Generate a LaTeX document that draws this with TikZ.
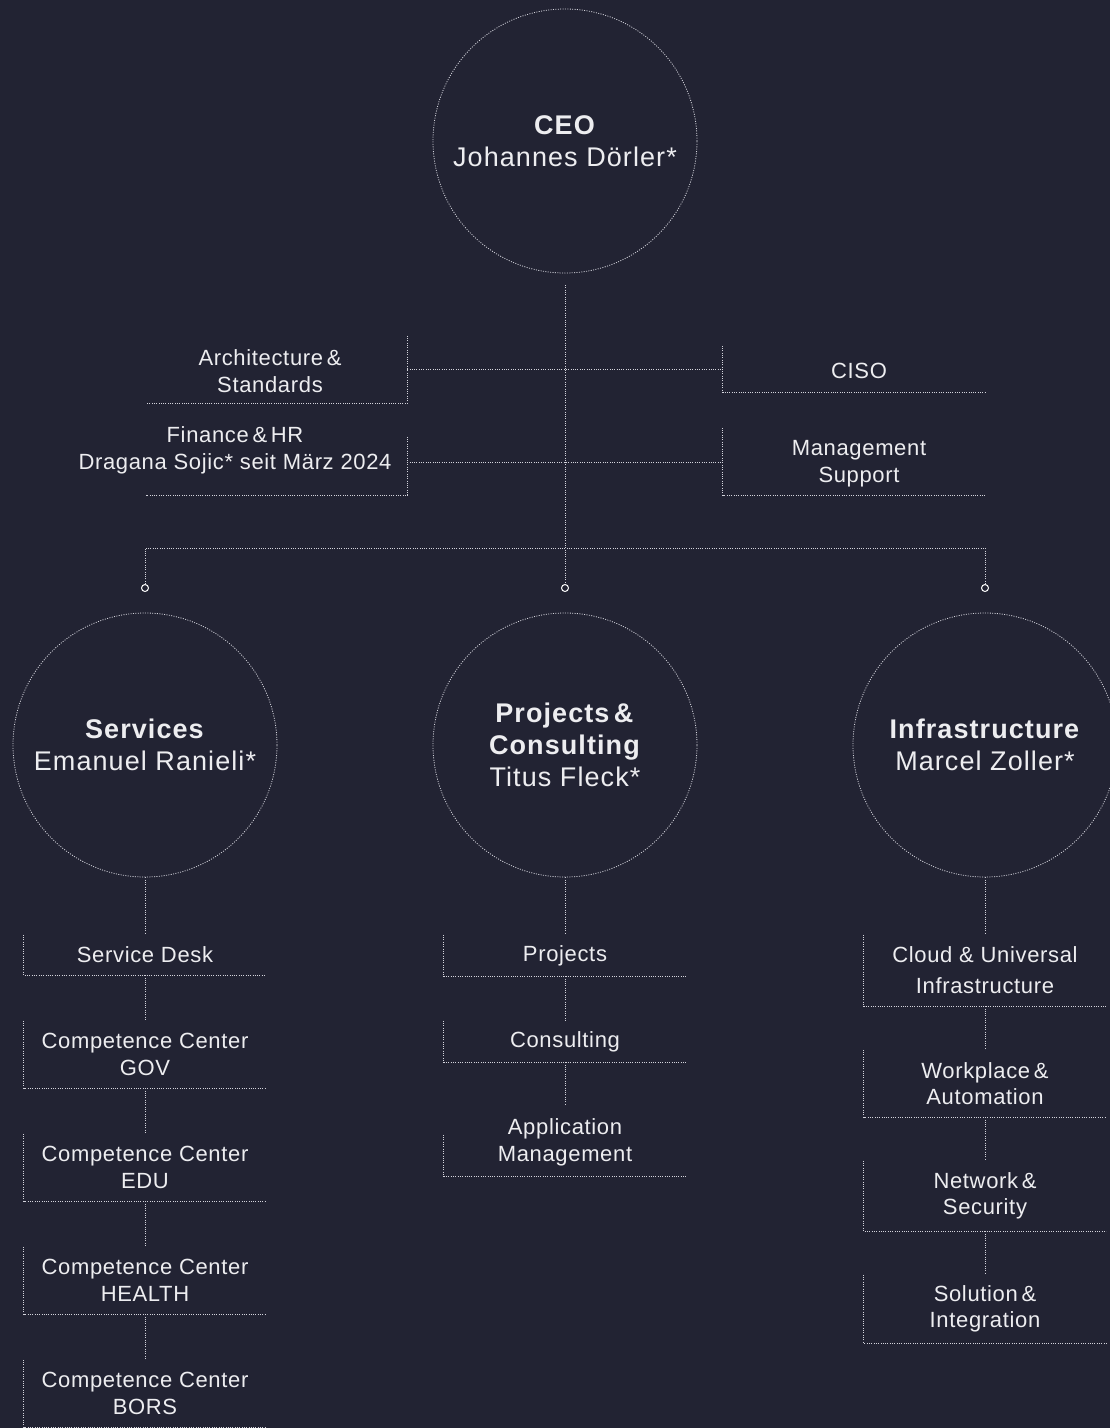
\documentclass[tikz,border=0pt]{standalone}
\usepackage{fontspec}
\setmainfont{Liberation Sans}[LetterSpace=3]
\usetikzlibrary{calc}
\definecolor{bg}{HTML}{222333}
\definecolor{fg}{HTML}{EDEDF0}
\definecolor{ln}{HTML}{D4D4DC}
\begin{document}
\begin{tikzpicture}[x=1pt,y=-1pt,
 dl/.style={draw=ln, line width=0.9pt, dash pattern=on 1pt off 1.3pt},
 circ/.style={circle, draw=ln, line width=0.8pt, dash pattern=on 1pt off 1.4pt, minimum size=264pt, inner sep=0pt, align=center, text=fg, font=\fontsize{27}{32}\selectfont\addfontfeatures{LetterSpace=4}},
 frame/.style={rectangle, inner sep=0pt, minimum width=242pt, minimum height=#1, text=fg, align=center, font=\fontsize{22}{26.5}\selectfont},
 txt/.style={text=fg, align=center, font=\fontsize{22}{26.5}\selectfont, inner sep=0pt},
 dot/.style={circle, draw=white, line width=1pt, fill=bg, minimum size=7pt, inner sep=0pt}]

\fill[bg] (0,0) rectangle (1110,1428);
\useasboundingbox (0,0) rectangle (1110,1428);

% CEO
\node[circ] (ceo) at (565,141) {\textbf{CEO}\\Johannes Dörler*};

% staff frames
\node[frame=67, minimum width=261pt] (arch) at (276.5,369.5) {};
\node[txt] (archt) at (270,371) {Architecture\,\&\\Standards};
\node[frame=58, minimum width=261pt] (fin) at (276.5,466) {};
\node[txt] (fint) at (235,450.5) {Finance\,\&\,HR\\Dragana Sojic* seit März 2024};
\node[frame=46, minimum width=262pt] (ciso) at (854,369) {};
\node[txt] (cisot) at (859,371) {CISO};
\node[frame=67, minimum width=262pt] (ms) at (854,461.5) {};
\node[txt] (mst) at (859,463.5) {Management\\Support};

\draw[dl] (arch.north east) |- (arch.south west);
\draw[dl] (fin.north east) |- (fin.south west);
\draw[dl] (ciso.north west) |- (ciso.south east);
\draw[dl] (ms.north west) |- (ms.south east);

% bus
\coordinate (bus) at (565,548);
\coordinate (j2) at (565,462);
\node[dot] (d1) at (145,588) {};
\node[dot] (d2) at (565,588) {};
\node[dot] (d3) at (985,588) {};
\draw[dl] (565,285) -- (d2.north);
\draw[dl] (arch.east) -- (arch.east -| ciso.west);
\draw[dl] (j2 -| fin.east) -- (j2 -| ms.west);
\draw[dl] (d1.north) |- (bus -| d3) -- (d3.north);

% level 2
\node[circ] (srv) at (145,745) {\textbf{Services}\\Emanuel Ranieli*};
\node[circ] (pc) at (565,745) {\textbf{Projects\,\&}\\\textbf{Consulting}\\Titus Fleck*};
\node[circ] (inf) at (985,745) {\textbf{Infrastructure}\\Marcel Zoller*};

% Services column
\node[frame=40] (sd) at (145,955) {\raisebox{-2pt}{Service Desk}};
\node[frame=67] (gov) at (145,1054.5) {Competence Center\\GOV};
\node[frame=67] (edu) at (145,1167.5) {Competence Center\\EDU};
\node[frame=67] (hea) at (145,1280.5) {Competence Center\\HEALTH};
\node[frame=67] (bor) at (145,1393.5) {Competence Center\\BORS};
\foreach \n in {sd,gov,edu,hea,bor}{\draw[dl] (\n.north west) |- (\n.south east);}
\draw[dl] (srv.south) -- (sd.north);
\draw[dl] (sd.south) -- (gov.north);
\draw[dl] (gov.south) -- (edu.north);
\draw[dl] (edu.south) -- (hea.north);
\draw[dl] (hea.south) -- (bor.north);

% Projects column
\node[frame=41] (pr) at (565,955.5) {\raisebox{-2pt}{Projects}};
\node[frame=41] (co) at (565,1041.5) {\raisebox{-2pt}{Consulting}};
\node[frame=41] (am) at (565,1155.5) {};
\node[txt] (amt) at (565,1142.5) {Application\\Management};
\coordinate (amin) at (565,1105);
\foreach \n in {pr,co,am}{\draw[dl] (\n.north west) |- (\n.south east);}
\draw[dl] (pc.south) -- (pr.north);
\draw[dl] (pr.south) -- (co.north);
\draw[dl] (co.south) -- (amin);

% Infrastructure column
\node[frame=71] (cl) at (985,970.5) {Cloud \& Universal\\[4.5pt]Infrastructure};
\node[frame=67] (wp) at (985,1083.5) {Workplace\,\&\\Automation};
\node[frame=70] (ns) at (985,1196) {Network\,\&\\Security};
\node[frame=68] (si) at (985,1309) {Solution\,\&\\Integration};
\foreach \n in {cl,wp,ns,si}{\draw[dl] (\n.north west) |- (\n.south east);}
\draw[dl] (inf.south) -- (cl.north);
\draw[dl] (cl.south) -- (wp.north);
\draw[dl] (wp.south) -- (ns.north);
\draw[dl] (ns.south) -- (si.north);
\end{tikzpicture}
\end{document}
